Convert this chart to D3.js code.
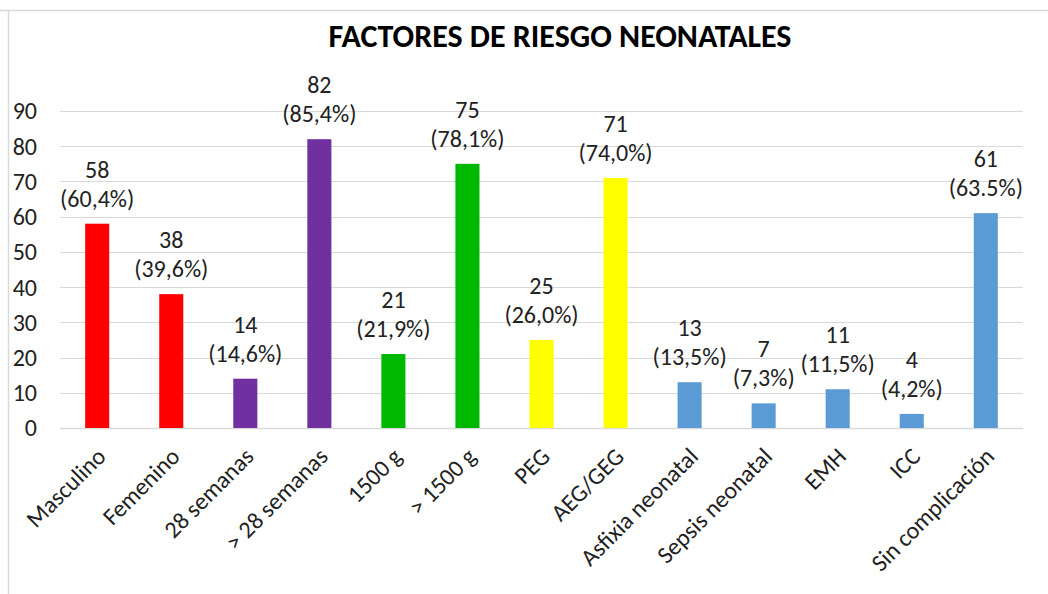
<!DOCTYPE html>
<html>
<head>
<meta charset="utf-8">
<script src="https://cdn.jsdelivr.net/npm/d3@7"></script>
<style>
  body { margin: 0; background: #fff; }
  svg { display: block; font-family: Carlito, Calibri, "Open Sans", sans-serif; }
</style>
</head>
<body>
<svg id="chart" width="1048" height="594"></svg>
<script>
const categories = ['Masculino', 'Femenino', '28 semanas', '> 28 semanas', '1500 g', '> 1500 g', 'PEG', 'AEG/GEG',
  'Asfixia neonatal', 'Sepsis neonatal', 'EMH', 'ICC', 'Sin complicación'];
const values = [58, 38, 14, 82, 21, 75, 25, 71, 13, 7, 11, 4, 61];
const percents = ['(60,4%)', '(39,6%)', '(14,6%)', '(85,4%)', '(21,9%)', '(78,1%)', '(26,0%)', '(74,0%)',
  '(13,5%)', '(7,3%)', '(11,5%)', '(4,2%)', '(63.5%)'];
const groups = ['sexo', 'sexo', 'edad', 'edad', 'peso', 'peso', 'eg', 'eg', 'comp', 'comp', 'comp', 'comp', 'comp'];
const yTicks = [0, 10, 20, 30, 40, 50, 60, 70, 80, 90];

const COLORS = {
  sexo: '#ff0000',
  edad: '#7030a0',
  peso: '#00b800',
  eg: '#ffff00',
  comp: '#5b9bd5'
};

const svg = d3.select('#chart');
const margin = { top: 111, left: 60, right: 25, bottom: 166 };
const width = 1048 - margin.left - margin.right;
const height = 594 - margin.top - margin.bottom;

// chart frame lines (top + left)
svg.append('line').attr('x1', 0).attr('x2', 1048).attr('y1', 10.5).attr('y2', 10.5)
  .attr('stroke', '#d9d9d9').attr('stroke-width', 1.5);
svg.append('line').attr('x1', 8.5).attr('x2', 8.5).attr('y1', 10).attr('y2', 594)
  .attr('stroke', '#d9d9d9').attr('stroke-width', 1.5);

svg.append('text')
  .attr('x', 560).attr('y', 47)
  .attr('text-anchor', 'middle')
  .attr('font-size', 32).attr('font-weight', 'bold')
  .attr('fill', '#000')
  .text('FACTORES DE RIESGO NEONATALES');

const g = svg.append('g').attr('transform', `translate(${margin.left},${margin.top})`);

const x = d3.scaleBand().domain(categories).range([0, width]).paddingInner(0.675).paddingOuter(0.34);
const y = d3.scaleLinear().domain([0, 90]).range([height, 0]);

// gridlines
g.selectAll('.grid').data(yTicks).enter().append('line')
  .attr('x1', 0).attr('x2', width)
  .attr('y1', d => Math.round(y(d)) + 0.5).attr('y2', d => Math.round(y(d)) + 0.5)
  .attr('stroke', '#d9d9d9').attr('stroke-width', d => d === 0 ? 1.5 : 1);

// y axis labels
g.selectAll('.ytick').data(yTicks).enter().append('text')
  .attr('x', -23).attr('y', d => y(d)).attr('dy', '0.35em')
  .attr('text-anchor', 'end').attr('font-size', 24).attr('fill', '#222')
  .text(d => d);

// bars
g.selectAll('.bar').data(values).enter().append('rect')
  .attr('x', (d, i) => x(categories[i]))
  .attr('y', d => y(d))
  .attr('width', x.bandwidth())
  .attr('height', d => height - y(d))
  .attr('fill', (d, i) => COLORS[groups[i]]);

// data labels
const lab = g.selectAll('.lab').data(values).enter().append('text')
  .attr('text-anchor', 'middle').attr('font-size', 24).attr('fill', '#222');
lab.append('tspan')
  .attr('x', (d, i) => x(categories[i]) + x.bandwidth() / 2)
  .attr('y', d => y(d) - 46)
  .text(d => d);
lab.append('tspan')
  .attr('x', (d, i) => x(categories[i]) + x.bandwidth() / 2)
  .attr('y', d => y(d) - 17)
  .text((d, i) => percents[i]);

// x axis labels
g.selectAll('.xlab').data(categories).enter().append('text')
  .attr('transform', d => `translate(${x(d) + x.bandwidth() / 2 + 4},${height + 24}) rotate(-45)`)
  .attr('text-anchor', 'end').attr('dy', '0.35em')
  .attr('font-size', 24).attr('fill', '#222')
  .text(d => d);
</script>
</body>
</html>
